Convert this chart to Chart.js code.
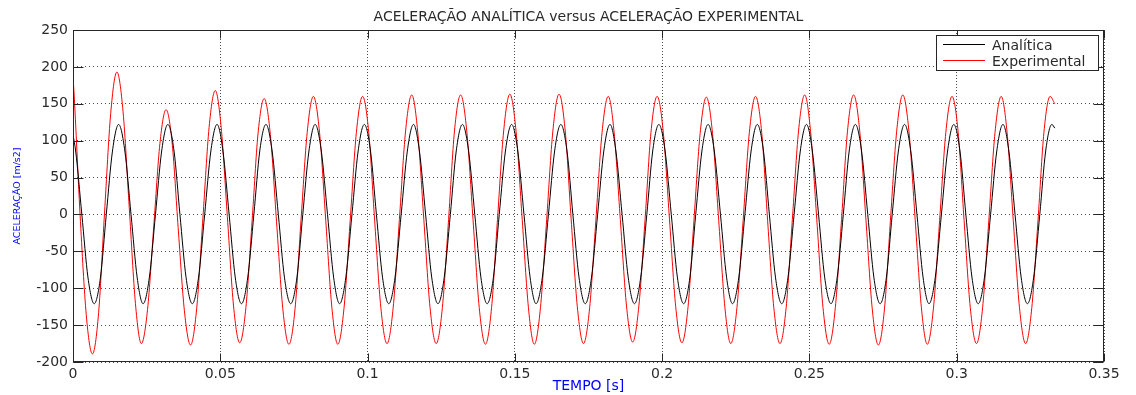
<!DOCTYPE html>
<html>
<head>
<meta charset="utf-8">
<title>Aceleração analítica versus experimental</title>
<script src="https://cdn.jsdelivr.net/npm/chart.js@4.4.1/dist/chart.umd.min.js"></script>
<style>
  html, body { margin: 0; padding: 0; background: #fff; }
</style>
</head>
<body>
<canvas id="acelChart" width="1136" height="395"></canvas>
<script>
// Texts
const chartTitle = 'ACELERAÇÃO ANALÍTICA versus ACELERAÇÃO EXPERIMENTAL';
const xAxisTitle = 'TEMPO [s]';
const yAxisTitle = 'ACELERAÇÃO [m/s2]';
const seriesNames = ['Analítica', 'Experimental'];

// Tick values
const xTickValues = [0, 0.05, 0.1, 0.15, 0.2, 0.25, 0.3, 0.35];
const yTickValues = [-200, -150, -100, -50, 0, 50, 100, 150, 200, 250];

// Analitica: 8 readings per cycle (one row per cycle, ending at the peak)
const tempoAnalitica = [
  0,
  0.0009, 0.0030, 0.0051, 0.0072, 0.0093, 0.0113, 0.0134, 0.0155,
  0.0176, 0.0197, 0.0218, 0.0238, 0.0259, 0.0280, 0.0301, 0.0322,
  0.0343, 0.0363, 0.0384, 0.0405, 0.0426, 0.0447, 0.0468, 0.0489,
  0.0509, 0.0530, 0.0551, 0.0572, 0.0593, 0.0614, 0.0634, 0.0655,
  0.0676, 0.0697, 0.0718, 0.0739, 0.0760, 0.0780, 0.0801, 0.0822,
  0.0843, 0.0864, 0.0885, 0.0905, 0.0926, 0.0947, 0.0968, 0.0989,
  0.1010, 0.1030, 0.1051, 0.1072, 0.1093, 0.1114, 0.1135, 0.1156,
  0.1176, 0.1197, 0.1218, 0.1239, 0.1260, 0.1281, 0.1301, 0.1322,
  0.1343, 0.1364, 0.1385, 0.1406, 0.1427, 0.1447, 0.1468, 0.1489,
  0.1510, 0.1531, 0.1552, 0.1572, 0.1593, 0.1614, 0.1635, 0.1656,
  0.1677, 0.1697, 0.1718, 0.1739, 0.1760, 0.1781, 0.1802, 0.1823,
  0.1843, 0.1864, 0.1885, 0.1906, 0.1927, 0.1948, 0.1968, 0.1989,
  0.2010, 0.2031, 0.2052, 0.2073, 0.2094, 0.2114, 0.2135, 0.2156,
  0.2177, 0.2198, 0.2219, 0.2239, 0.2260, 0.2281, 0.2302, 0.2323,
  0.2344, 0.2364, 0.2385, 0.2406, 0.2427, 0.2448, 0.2469, 0.2490,
  0.2510, 0.2531, 0.2552, 0.2573, 0.2594, 0.2615, 0.2635, 0.2656,
  0.2677, 0.2698, 0.2719, 0.2740, 0.2761, 0.2781, 0.2802, 0.2823,
  0.2844, 0.2865, 0.2886, 0.2906, 0.2927, 0.2948, 0.2969, 0.2990,
  0.3011, 0.3031, 0.3052, 0.3073, 0.3094, 0.3115, 0.3136, 0.3157,
  0.3177, 0.3198, 0.3219, 0.3240, 0.3261, 0.3282, 0.3302, 0.3323,
  0.3333
];
const acelAnalitica = [
  108,
  86, 0, -86, -121, -86, 0, 86, 122,
  86, 0, -86, -121, -86, 0, 86, 122,
  86, 0, -86, -121, -86, 0, 86, 122,
  86, 0, -86, -121, -86, 0, 86, 122,
  86, 0, -86, -121, -86, 0, 86, 122,
  86, 0, -86, -121, -86, 0, 86, 122,
  86, 0, -86, -121, -86, 0, 86, 122,
  86, 0, -86, -121, -86, 0, 86, 122,
  86, 0, -86, -121, -86, 0, 86, 122,
  86, 0, -86, -121, -86, 0, 86, 122,
  86, 0, -86, -121, -86, 0, 86, 122,
  86, 0, -86, -121, -86, 0, 86, 122,
  86, 0, -86, -121, -86, 0, 86, 122,
  86, 0, -86, -121, -86, 0, 86, 122,
  86, 0, -86, -121, -86, 0, 86, 122,
  86, 0, -86, -121, -86, 0, 86, 122,
  86, 0, -86, -121, -86, 0, 86, 122,
  86, 0, -86, -121, -86, 0, 86, 122,
  86, 0, -86, -121, -86, 0, 86, 122,
  86, 0, -86, -121, -86, 0, 86, 122,
  117
];

// Experimental: same layout, slightly ahead of the analytic curve
const tempoExperimental = [
  0,
  0.0003, 0.0024, 0.0045, 0.0066, 0.0087, 0.0107, 0.0128, 0.0149,
  0.0170, 0.0191, 0.0212, 0.0232, 0.0253, 0.0274, 0.0295, 0.0316,
  0.0337, 0.0357, 0.0378, 0.0399, 0.0420, 0.0441, 0.0462, 0.0483,
  0.0503, 0.0524, 0.0545, 0.0566, 0.0587, 0.0608, 0.0628, 0.0649,
  0.0670, 0.0691, 0.0712, 0.0733, 0.0754, 0.0774, 0.0795, 0.0816,
  0.0837, 0.0858, 0.0879, 0.0899, 0.0920, 0.0941, 0.0962, 0.0983,
  0.1004, 0.1024, 0.1045, 0.1066, 0.1087, 0.1108, 0.1129, 0.1150,
  0.1170, 0.1191, 0.1212, 0.1233, 0.1254, 0.1275, 0.1295, 0.1316,
  0.1337, 0.1358, 0.1379, 0.1400, 0.1421, 0.1441, 0.1462, 0.1483,
  0.1504, 0.1525, 0.1546, 0.1566, 0.1587, 0.1608, 0.1629, 0.1650,
  0.1671, 0.1691, 0.1712, 0.1733, 0.1754, 0.1775, 0.1796, 0.1817,
  0.1837, 0.1858, 0.1879, 0.1900, 0.1921, 0.1942, 0.1962, 0.1983,
  0.2004, 0.2025, 0.2046, 0.2067, 0.2088, 0.2108, 0.2129, 0.2150,
  0.2171, 0.2192, 0.2213, 0.2233, 0.2254, 0.2275, 0.2296, 0.2317,
  0.2338, 0.2358, 0.2379, 0.2400, 0.2421, 0.2442, 0.2463, 0.2484,
  0.2504, 0.2525, 0.2546, 0.2567, 0.2588, 0.2609, 0.2629, 0.2650,
  0.2671, 0.2692, 0.2713, 0.2734, 0.2755, 0.2775, 0.2796, 0.2817,
  0.2838, 0.2859, 0.2880, 0.2900, 0.2921, 0.2942, 0.2963, 0.2984,
  0.3005, 0.3025, 0.3046, 0.3067, 0.3088, 0.3109, 0.3130, 0.3151,
  0.3171, 0.3192, 0.3213, 0.3234, 0.3255, 0.3276, 0.3296, 0.3317,
  0.3333
];
const acelExperimental = [
  186,
  168, 0, -136, -189, -133, 2, 137, 193,
  139, 9, -121, -175, -129, -17, 96, 142,
  95, -18, -130, -177, -127, -5, 118, 168,
  118, -3, -124, -174, -126, -9, 109, 157,
  108, -10, -127, -176, -127, -8, 111, 160,
  111, -8, -127, -176, -127, -8, 111, 160,
  111, -8, -126, -175, -126, -7, 113, 162,
  113, -7, -126, -175, -126, -7, 113, 162,
  112, -7, -126, -176, -126, -7, 113, 163,
  113, -7, -126, -176, -126, -7, 113, 163,
  113, -6, -125, -175, -126, -8, 111, 160,
  111, -7, -124, -173, -124, -7, 111, 160,
  111, -7, -125, -174, -125, -8, 110, 159,
  110, -8, -126, -175, -126, -8, 111, 160,
  111, -8, -126, -175, -126, -7, 113, 162,
  112, -7, -126, -176, -126, -7, 112, 162,
  112, -8, -127, -177, -127, -8, 112, 162,
  112, -7, -126, -176, -127, -8, 111, 160,
  111, -8, -126, -175, -126, -8, 111, 160,
  111, -8, -126, -175, -126, -8, 111, 160,
  150
];

const txtColor = '#2a2a2a';
const gridColor = 'rgba(0, 0, 0, 0.7)';
const fontFam = '"DejaVu Sans", sans-serif';

// box and inward tick marks like MATLAB axes
const matlabAxes = {
  id: 'matlabAxes',
  afterDatasetsDraw(chart) {
    const { ctx, chartArea: a, scales } = chart;
    const l = Math.round(a.left) + 0.5, r = Math.round(a.right) - 0.5;
    const t = Math.round(a.top) + 0.5, b = Math.round(a.bottom) - 0.5;
    ctx.save();
    ctx.strokeStyle = '#262626';
    ctx.lineWidth = 1;
    ctx.beginPath();
    xTickValues.forEach(v => {
      const px = Math.round(scales.x.getPixelForValue(v)) + 0.5;
      ctx.moveTo(px, b); ctx.lineTo(px, b - 8);
      ctx.moveTo(px, t); ctx.lineTo(px, t + 8);
    });
    yTickValues.forEach(v => {
      const py = Math.round(scales.y.getPixelForValue(v)) + 0.5;
      ctx.moveTo(l, py); ctx.lineTo(l + 10, py);
      ctx.moveTo(r, py); ctx.lineTo(r - 10, py);
    });
    ctx.stroke();
    ctx.strokeRect(l, t, r - l, b - t);
    ctx.restore();
  }
};

// legend box in the upper right corner
const legendBox = {
  id: 'legendBox',
  afterDraw(chart) {
    const { ctx, chartArea: a } = chart;
    const w = 162, h = 35;
    const x0 = Math.round(a.right) - 6 - w, y0 = Math.round(a.top) + 5;
    ctx.save();
    ctx.fillStyle = '#fff';
    ctx.fillRect(x0, y0, w, h);
    ctx.strokeStyle = '#262626';
    ctx.lineWidth = 1;
    ctx.strokeRect(x0 + 0.5, y0 + 0.5, w, h);
    ctx.font = '14px ' + fontFam;
    ctx.textBaseline = 'middle';
    chart.data.datasets.forEach((ds, i) => {
      const y = y0 + 9 + i * 16;
      ctx.strokeStyle = ds.borderColor;
      ctx.beginPath();
      ctx.moveTo(x0 + 7, y + 0.5);
      ctx.lineTo(x0 + 49, y + 0.5);
      ctx.stroke();
      ctx.fillStyle = txtColor;
      ctx.fillText(ds.label, x0 + 56, y + 2);
    });
    ctx.restore();
  }
};

window.onload = () => {
  const ctx = document.getElementById('acelChart').getContext('2d');
  new Chart(ctx, {
    type: 'line',
    data: {
      datasets: [{
        label: seriesNames[0],
        data: tempoAnalitica.map((t, i) => ({ x: t, y: acelAnalitica[i] })),
        borderColor: '#000000',
        borderWidth: 1,
        pointRadius: 0,
        cubicInterpolationMode: 'monotone',
        fill: false
      }, {
        label: seriesNames[1],
        data: tempoExperimental.map((t, i) => ({ x: t, y: acelExperimental[i] })),
        borderColor: '#ff0000',
        borderWidth: 1,
        pointRadius: 0,
        cubicInterpolationMode: 'monotone',
        fill: false
      }]
    },
    options: {
      responsive: false,
      animation: false,
      layout: { padding: { left: 0, right: 32, top: 0, bottom: 0 } },
      plugins: {
        legend: { display: false },
        tooltip: { enabled: false },
        title: {
          display: true,
          text: chartTitle,
          fullSize: false,
          color: txtColor,
          font: { family: fontFam, size: 14, weight: 'normal' },
          padding: { top: 9, bottom: 4.2 }
        }
      },
      scales: {
        x: {
          type: 'linear',
          min: 0,
          max: 0.35,
          afterBuildTicks: s => { s.ticks = xTickValues.map(v => ({ value: v })); },
          afterFit: s => { s.height = 33; },
          ticks: {
            autoSkip: false,
            maxRotation: 0,
            color: txtColor,
            padding: 4,
            font: { family: fontFam, size: 14 },
            callback: v => String(v)
          },
          grid: { color: gridColor, lineWidth: 1, drawTicks: false },
          border: { display: false, dash: [1, 2] },
          title: {
            display: true,
            text: xAxisTitle,
            color: '#0000ff',
            font: { family: fontFam, size: 14 },
            padding: { top: 0, bottom: 0 }
          }
        },
        y: {
          min: -200,
          max: 250,
          afterBuildTicks: s => { s.ticks = yTickValues.map(v => ({ value: v })); },
          afterFit: s => { s.width = 73; },
          ticks: {
            color: txtColor,
            padding: 5,
            font: { family: fontFam, size: 14 }
          },
          grid: { color: gridColor, lineWidth: 1, drawTicks: false },
          border: { display: false, dash: [1, 3] },
          title: {
            display: true,
            text: yAxisTitle,
            color: '#0000ff',
            font: { family: fontFam, size: 9.5 },
            padding: { top: 12, bottom: 0 }
          }
        }
      }
    },
    plugins: [matlabAxes, legendBox]
  });
};
</script>
</body>
</html>
